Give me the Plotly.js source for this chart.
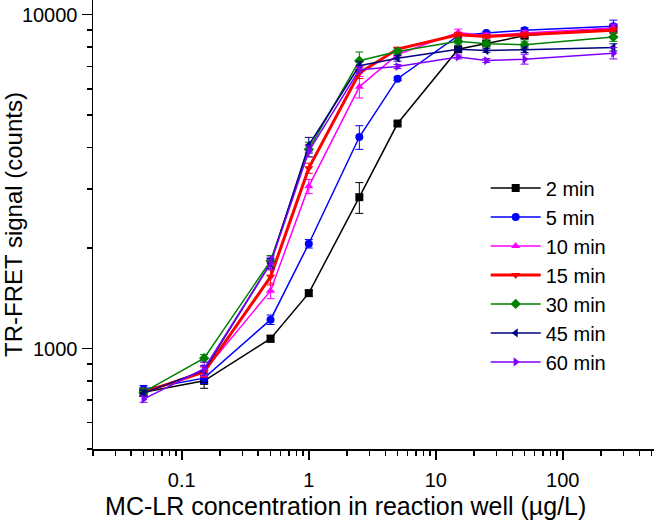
<!DOCTYPE html>
<html>
<head>
<meta charset="utf-8">
<script src="https://cdn.plot.ly/plotly-3.0.1.min.js"></script>
<style>html,body{margin:0;padding:0;background:#fff;}#chart{width:654px;height:520px;}</style>
</head>
<body>
<div id="chart"></div>
<script>
// Concentrations (µg/L)
const conc = [0.05, 0.15, 0.5, 1, 2.5, 5, 15, 25, 50, 250];

// Series names
const seriesNames = ['2 min', '5 min', '10 min', '15 min', '30 min', '45 min', '60 min'];

// Mean TR-FRET signal (counts)
const min2  = [740, 800, 1070, 1465, 2840, 4720, 7880, 8200, 8650, 9120];
const min5  = [755, 815, 1220, 2060, 4300, 6430, 8650, 8810, 8980, 9230];
const min10 = [740, 855, 1490, 3060, 6080, 7600, 8850, 8650, 8810, 9120];
const min15 = [740, 850, 1640, 3470, 6690, 7890, 8710, 8610, 8710, 8980];
const min30 = [740, 935, 1830, 3950, 7280, 7760, 8320, 8180, 8130, 8570];
const min45 = [735, 860, 1800, 4070, 7030, 7410, 7880, 7810, 7850, 7980];
const min60 = [705, 870, 1800, 3900, 6840, 6995, 7470, 7290, 7360, 7670];

// Error bars (counts)
const err2  = [20, 40, 25, 30, 300, 60, 150, 150, 150, 250];
const err5  = [20, 30, 40, 60, 350, 80, 150, 100, 150, 400];
const err10 = [20, 30, 80, 150, 450, 150, 200, 150, 150, 250];
const err15 = [20, 30, 90, 120, 250, 100, 150, 100, 150, 200];
const err30 = [20, 25, 70, 200, 450, 150, 150, 150, 200, 250];
const err45 = [15, 30, 60, 220, 200, 150, 100, 100, 150, 200];
const err60 = [15, 40, 80, 150, 150, 100, 100, 100, 250, 300];

// Y tick labels
const yTickVals = [1000, 10000];
const yTickText = ['1000', '10000'];

const means = [min2, min5, min10, min15, min30, min45, min60];
const errs = [err2, err5, err10, err15, err30, err45, err60];
const colors = ['#000000', '#0000FF', '#FF00FF', '#FF0000', '#008000', '#000080', '#8000FF'];
const symbols = ['square', 'circle', 'triangle-up', 'triangle-down', 'diamond', 'triangle-left', 'triangle-right'];
const widths = [1.5, 1.5, 1.5, 3, 1.5, 1.5, 1.5];

const FONT = '"Liberation Sans", Arial, sans-serif';

const traces = seriesNames.map((name, i) => ({
  type: 'scatter',
  mode: 'lines+markers',
  name: name,
  x: conc,
  y: means[i],
  line: {color: colors[i], width: widths[i]},
  marker: {color: colors[i], symbol: symbols[i], size: 8},
  error_y: {type: 'data', array: errs[i], visible: true, color: colors[i], thickness: 1, width: 4}
}));

const layout = {
  width: 654,
  height: 520,
  margin: {l: 93, r: 0, t: 0, b: 71},
  paper_bgcolor: '#ffffff',
  plot_bgcolor: '#ffffff',
  font: {family: FONT, size: 20, color: '#000000'},
  showlegend: true,
  legend: {
    x: 0.70, y: 0.625, xanchor: 'left', yanchor: 'top',
    bgcolor: 'rgba(0,0,0,0)',
    itemwidth: 50,
    font: {family: FONT, size: 20, color: '#000000'}
  },
  xaxis: {
    type: 'log',
    range: [Math.log10(0.02), 2.718],
    dtick: 1,
    exponentformat: 'none',
    showgrid: false,
    zeroline: false,
    showline: true,
    linecolor: '#000000',
    linewidth: 1.5,
    ticks: 'outside',
    ticklen: 9,
    tickwidth: 1.5,
    tickcolor: '#000000',
    ticklabelstandoff: 3,
    tickfont: {family: FONT, size: 20, color: '#000000'},
    minor: {ticks: 'outside', ticklen: 5, tickwidth: 1.5, tickcolor: '#000000', dtick: 'D1', showgrid: false},
    title: {text: 'MC-LR concentration in reaction well (µg/L)&nbsp;&nbsp;&nbsp;&nbsp;&nbsp;&nbsp;&nbsp;&nbsp;', font: {family: FONT, size: 25, color: '#000000'}, standoff: 14}
  },
  yaxis: {
    type: 'log',
    range: [Math.log10(500), 4.044],
    tickmode: 'array',
    tickvals: yTickVals,
    ticktext: yTickText,
    showgrid: false,
    zeroline: false,
    showline: true,
    linecolor: '#000000',
    linewidth: 1.5,
    ticks: 'outside',
    ticklen: 10,
    tickwidth: 1.5,
    tickcolor: '#000000',
    tickfont: {family: FONT, size: 20, color: '#000000'},
    minor: {ticks: 'outside', ticklen: 5, tickwidth: 1.5, tickcolor: '#000000', dtick: 'D1', showgrid: false},
    title: {text: 'TR-FRET signal (counts)', font: {family: FONT, size: 24, color: '#000000'}, standoff: 2}
  }
};

Plotly.newPlot('chart', traces, layout, {displayModeBar: false, staticPlot: true});
</script>
</body>
</html>
